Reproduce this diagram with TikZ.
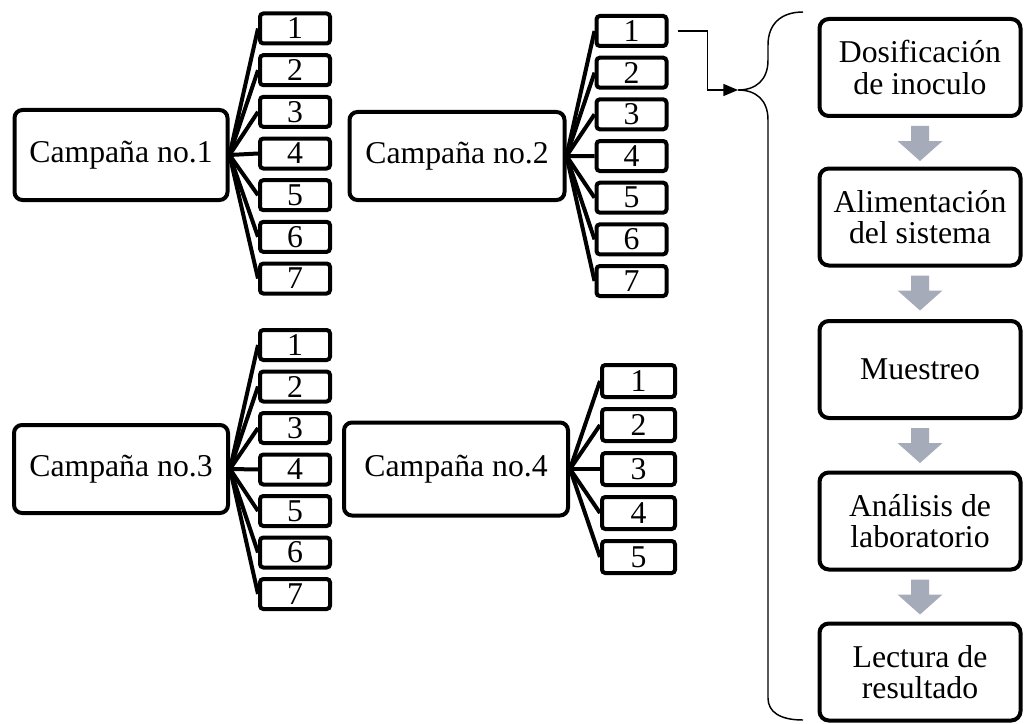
\documentclass[tikz,border=0pt]{standalone}
\usepackage{fontspec}
\setmainfont{Liberation Serif}
\usetikzlibrary{arrows.meta,calc}
\definecolor{arrowgray}{RGB}{166,171,185}
\begin{document}
\begin{tikzpicture}[x=0.75pt,y=-0.75pt,
  every node/.style={font=\fontsize{23.8}{23.5}\selectfont},
  campbox/.style={draw,line width=3pt,rounded corners=6pt,inner sep=0pt,align=center},
  numbox/.style={draw,line width=3pt,rounded corners=2.5pt,inner sep=0pt,minimum width=52.5pt,minimum height=22.5pt},
  stepbox/.style={draw,line width=3pt,rounded corners=7pt,inner sep=0pt,align=center,minimum width=150.75pt,minimum height=72.75pt},
  link/.style={line width=3pt},
  thinline/.style={line width=1.1pt},
  grayarrow/.style={fill=arrowgray}]
\useasboundingbox (0,0) rectangle (1025,724);

% Campaign 1
\node[campbox,minimum width=159.75pt,minimum height=67.5pt] (c1) at (121,155) {Campaña no.1};
\foreach \i in {1,...,7}{
  \node[numbox] (a\i) at (295,{28.5+41.67*(\i-1)}) {\i};
  \draw[link] (c1.east) -- (a\i.west);
}
% Campaign 2
\node[campbox,minimum width=161.25pt,minimum height=66pt] (c2) at (457,156) {Campaña no.2};
\foreach \i in {1,...,7}{
  \node[numbox] (b\i) at (631.5,{31+41.67*(\i-1)}) {\i};
  \draw[link] (c2.east) -- (b\i.west);
}
% Campaign 3
\node[campbox,minimum width=160.5pt,minimum height=66pt] (c3) at (121,469) {Campaña no.3};
\foreach \i in {1,...,7}{
  \node[numbox] (d\i) at (295,{345+41.5*(\i-1)}) {\i};
  \draw[link] (c3.east) -- (d\i.west);
}
% Campaign 4
\node[campbox,minimum width=168pt,minimum height=69.75pt] (c4) at (456,469) {Campaña no.4};
\foreach \i in {1,...,5}{
  \node[numbox,minimum width=54.75pt,minimum height=24pt] (e\i) at (638.5,{381+44*(\i-1)}) {\i};
  \draw[link] (c4.east) -- (e\i.west);
}

% Right column
\node[stepbox] (r1) at (920,67.5) {Dosificación\\de inoculo};
\node[stepbox] (r2) at (920,217) {Alimentación\\del sistema};
\node[stepbox] (r3) at (920,369.5) {Muestreo};
\node[stepbox] (r4) at (920,521) {Análisis de\\laboratorio};
\node[stepbox] (r5) at (920,672) {Lectura de\\resultado};

\foreach \a/\b in {r1/r2,r2/r3,r3/r4,r4/r5}{
  \fill[grayarrow] ($(\a.south)+(-9,8)$) -- ++(18,0) -- ++(0,15) -- ++(13.5,0)
    -- ($(\a.south)+(0,43)$) -- ++(-22.5,-20) -- ++(13.5,0) -- cycle;
}

% Brace
\coordinate (tip) at (738,90);
\draw[thinline] (803,12) .. controls (781,12) and (768,24) .. (768,45)
  -- (768,60) .. controls (768,80) and (756,90) .. (tip)
  .. controls (756,90) and (768,100) .. (768,120)
  -- (768,698) .. controls (768,712) and (780,720) .. (803,720);

% Arrow from campaign 2, step 1 to the brace
\draw[thinline,-{Triangle[length=11pt,width=9pt]}] ([xshift=6.75pt]b1.east) -- ++(30,0) |- (tip);
\end{tikzpicture}
\end{document}
